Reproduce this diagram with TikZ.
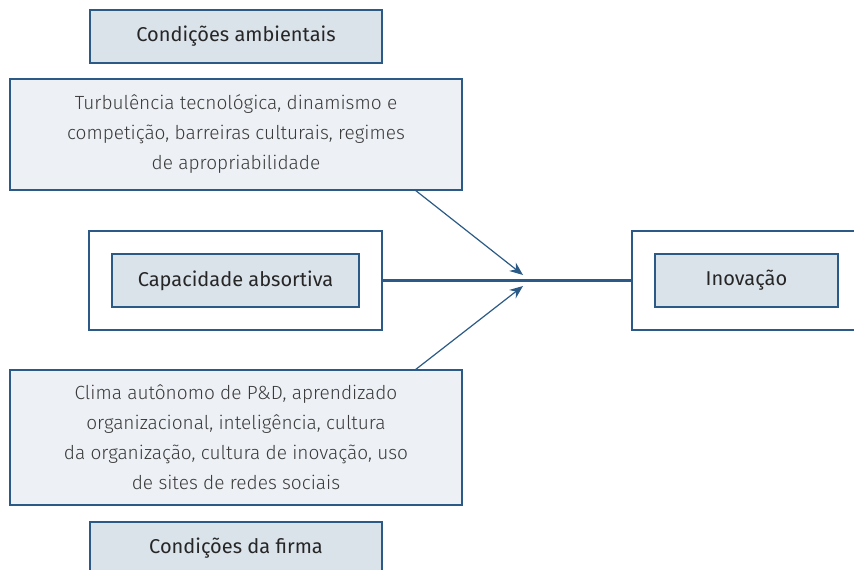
\documentclass[tikz,border=0pt]{standalone}
\usepackage{fontspec}
\setmainfont{Fira Sans}
\newfontfamily\lightfont{Fira Sans Light}
\usetikzlibrary{arrows.meta,positioning,calc}
\definecolor{bord}{HTML}{2B5A86}
\definecolor{titfill}{HTML}{DAE2EA}
\definecolor{txtfill}{HTML}{EDF0F5}
\definecolor{txtcol}{HTML}{3A3A3A}
\tikzset{
  titlebox/.style={draw=bord,fill=titfill,line width=0.9pt,minimum height=53*0.75pt,inner sep=0pt,font=\fontsize{15}{18}\selectfont,text=black!85},
  textbox/.style={draw=bord,fill=txtfill,line width=0.9pt,inner sep=0pt,align=center,font=\lightfont\fontsize{14.3}{22.5}\selectfont,text=txtcol},
  outerbox/.style={draw=bord,fill=white,line width=0.9pt,inner sep=0pt},
  arr/.style={draw=bord,line width=0.9pt,-{Stealth[length=10pt,width=8pt]}},
}
\begin{document}
\begin{tikzpicture}[x=0.75pt,y=-0.75pt]
\useasboundingbox (0,0) rectangle (854,570);
% title top
\node[titlebox,minimum width=292*0.75pt] (amb) at (236,36.5) {Condições ambientais};
% top text box
\node[textbox,minimum width=452*0.75pt,minimum height=111*0.75pt] (turb) at (236,134.5)
  {Turbulência tecnológica, dinamismo e\\competição, barreiras culturais, regimes\\de apropriabilidade};
% capacidade
\node[outerbox,minimum width=293*0.75pt,minimum height=99*0.75pt] (capo) at (235.5,280.5) {};
\node[titlebox,minimum width=247*0.75pt] (cap) at (235.5,280.5) {Capacidade absortiva};
% inovacao
\node[outerbox,minimum width=250*0.75pt,minimum height=99*0.75pt] (inoo) at (757,280.5) {};
\node[titlebox,minimum width=183*0.75pt] (ino) at (746.5,280.5) {Inovação};
% bottom text box
\node[textbox,minimum width=452*0.75pt,minimum height=135*0.75pt] (clima) at (236,437.5)
  {Clima autônomo de P\&D, aprendizado\\organizacional, inteligência, cultura\\da organização, cultura de inovação, uso\\de sites de redes sociais};
% title bottom
\node[titlebox,minimum width=292*0.75pt] (firma) at (236,548.5) {Condições da firma};
% connectors
\draw[draw=bord,line width=1.6pt] (capo.east) -- (inoo.west);
\coordinate (t1) at (523,275);
\coordinate (t2) at (523,286);
\coordinate (s1) at (415,190);
\coordinate (s2) at (415,370);
\draw[arr] (s1) -- (t1);
\draw[arr] (s2) -- (t2);
\end{tikzpicture}
\end{document}
